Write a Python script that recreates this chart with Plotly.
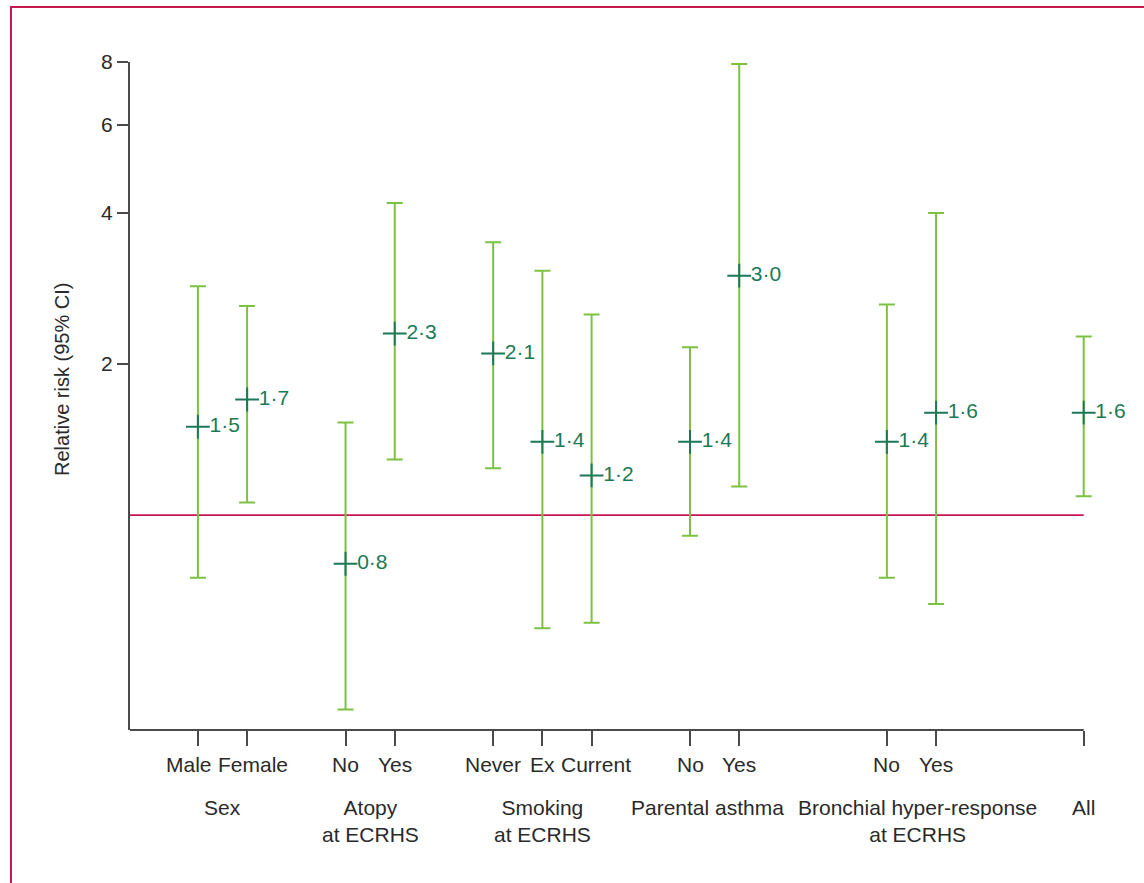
import math
import plotly.graph_objects as go

# Subgroups and their relative risks (95% CI)
groups = ["Sex", "Atopy<br>at ECRHS", "Smoking<br>at ECRHS", "Parental asthma",
          "Bronchial hyper-response<br>at ECRHS", "All"]
subgroups = [["Male", "Female"], ["No", "Yes"], ["Never", "Ex", "Current"],
             ["No", "Yes"], ["No", "Yes"], [""]]
rr = [1.5, 1.7, 0.8, 2.3, 2.1, 1.4, 1.2, 1.4, 3.0, 1.4, 1.6, 1.6]
ci_low = [0.75, 1.06, 0.41, 1.29, 1.24, 0.595, 0.61, 0.91, 1.14, 0.75, 0.665, 1.09]
ci_high = [2.86, 2.61, 1.53, 4.19, 3.50, 3.07, 2.51, 2.16, 7.93, 2.63, 4.0, 2.27]
y_ticks = [2, 4, 6, 8]

# Horizontal layout: spacing (in slots) before each group
group_gap = [0, 2, 2, 2, 3, 3]
# Small horizontal nudges (px) so that neighbouring labels do not collide
label_nudge = {"Male": -9, "Female": 6, "Current": 4}
group_nudge = {"Parental asthma": -7, "Bronchial hyper-response<br>at ECRHS": 6}

FONT = "Liberation Sans, Arial, sans-serif"
TEXT = "#2a2a2a"
AXIS = "#4a4a4a"
BAR = "#7cc242"
POINT = "#1a7a55"
REF = "#c8174f"

XMIN, XMAX, XLAST = -1.38, 18.25, 18
M_L, M_R = 130, 48

xpos, tick_text, group_centres = [], [], []
cur = 0
for g, subs, gap in zip(groups, subgroups, group_gap):
    cur += gap
    members = []
    for s in subs:
        xpos.append(cur)
        tick_text.append(s)
        members.append(cur)
        cur += 1
    cur -= 1
    group_centres.append(sum(members) / len(members))

labels = [f"{v:.1f}".replace(".", "\u00b7") for v in rr]

fig = go.Figure()
fig.add_trace(go.Scatter(
    x=xpos, y=rr,
    mode="markers+text",
    marker=dict(symbol="cross-thin", size=17, line=dict(color=POINT, width=2), color=POINT),
    text=labels,
    textposition="middle right",
    textfont=dict(family=FONT, size=21, color=POINT),
    error_y=dict(type="data", symmetric=False,
                 array=[h - v for h, v in zip(ci_high, rr)],
                 arrayminus=[v - l for l, v in zip(ci_low, rr)],
                 color=BAR, thickness=2, width=8),
    cliponaxis=False,
    hoverinfo="skip",
    showlegend=False,
))

# Reference line at relative risk = 1
fig.add_shape(type="line", xref="x", yref="y", x0=XMIN, x1=XLAST, y0=1, y1=1,
              line=dict(color=REF, width=1.6), layer="below")

# X axis baseline, ending at the last category tick
fig.add_shape(type="line", xref="x", yref="paper", x0=XMIN, x1=XLAST, y0=0, y1=0,
              line=dict(color=AXIS, width=2), layer="above")

# Panel frame
plot_w = 1144 - M_L - M_R
fig.add_shape(type="rect", xref="paper", yref="paper",
              x0=(11 - M_L) / plot_w, x1=1.2, y0=-0.3, y1=(730 - 7) / 668,
              line=dict(color=REF, width=2))

# Subgroup labels under the ticks
for x, s in zip(xpos, tick_text):
    if not s:
        continue
    fig.add_annotation(x=x, xref="x", y=-0.052, yref="paper", text=s,
                       showarrow=False, yanchor="middle", xanchor="center",
                       xshift=label_nudge.get(s, 0),
                       font=dict(family=FONT, size=21, color=TEXT))

# Group labels under the subgroup labels
for c, g in zip(group_centres, groups):
    fig.add_annotation(x=c, xref="x", y=-0.096, yref="paper", text=g,
                       showarrow=False, yanchor="top", xanchor="center",
                       align="center", xshift=group_nudge.get(g, 0),
                       font=dict(family=FONT, size=21, color=TEXT))

# Y axis title
fig.add_annotation(x=(62 - M_L) / plot_w, xref="paper", y=(730 - 380) / 668, yref="paper",
                   text="Relative risk (95% CI)", textangle=-90, showarrow=False,
                   xanchor="center", yanchor="middle",
                   font=dict(family=FONT, size=20, color=TEXT))

fig.update_layout(
    width=1144, height=883,
    margin=dict(l=M_L, r=M_R, t=62, b=153),
    paper_bgcolor="white", plot_bgcolor="white",
    font=dict(family=FONT, size=21, color=TEXT),
    xaxis=dict(range=[XMIN, XMAX], tickvals=xpos, showticklabels=False,
               showgrid=False, zeroline=False, showline=False,
               ticks="outside", ticklen=15, tickwidth=2, tickcolor=AXIS),
    yaxis=dict(type="log", range=[math.log10(0.373), math.log10(8)],
               tickvals=y_ticks, ticktext=[str(t) for t in y_ticks],
               showgrid=False, zeroline=False, showline=True, linecolor=AXIS,
               linewidth=2, ticks="outside", ticklen=11, tickwidth=2, tickcolor=AXIS,
               tickfont=dict(family=FONT, size=21, color=TEXT)),
)

fig.write_html("out.html")
